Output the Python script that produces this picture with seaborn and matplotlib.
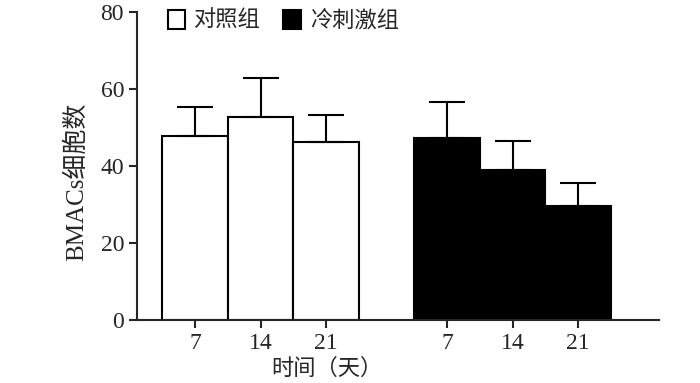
import numpy as np
import pandas as pd
import matplotlib
matplotlib.use('Agg')
import matplotlib.pyplot as plt
from matplotlib.patches import Patch
import seaborn as sns

# 数据
groups = ['对照组', '对照组', '对照组', '冷刺激组', '冷刺激组', '冷刺激组']
days = ['7', '14', '21', '7', '14', '21']
positions = [0, 1, 2, 3.85, 4.85, 5.85]
means = [47.8, 52.7, 46.2, 47.3, 39.0, 29.6]
sds = [7.5, 10.2, 7.0, 9.3, 7.5, 6.0]

df = pd.DataFrame({'group': groups, 'day': days, 'pos': positions, 'mean': means, 'sd': sds})

sns.set_style('ticks')
plt.rcParams['font.family'] = ['Liberation Serif', 'Noto Sans CJK SC']
plt.rcParams['axes.unicode_minus'] = False

fig = plt.figure(figsize=(7, 3.83), dpi=100)
ax = fig.add_axes([0.196, 0.1645, 0.745, 0.8042])

palette = {'对照组': 'white', '冷刺激组': 'black'}
sns.barplot(data=df, x='pos', y='mean', hue='group', palette=palette, native_scale=True,
            dodge=False, width=1, edgecolor='black', linewidth=1.5, errorbar=None,
            legend=False, ax=ax)

ax.errorbar(df['pos'], df['mean'], yerr=[np.zeros(len(df)), df['sd']], fmt='none',
            ecolor='black', elinewidth=1.5, capsize=13, capthick=1.5, zorder=1)

ax.set_xlim(-0.885, 7.08)
ax.set_ylim(0, 80)
ax.set_yticks([0, 20, 40, 60, 80])
ax.set_xticks(df['pos'])
ax.set_xticklabels(df['day'])
ax.tick_params(axis='both', labelsize=17, width=1.5, length=6, direction='out')

sns.despine(ax=ax)
for s in ['left', 'bottom']:
    ax.spines[s].set_linewidth(1.5)

ax.set_xlabel('时间（天）', fontsize=16)
ax.set_ylabel('BMACs细胞数', fontsize=18)
ax.xaxis.set_label_coords(0.364, -0.125)
ax.yaxis.set_label_coords(-0.095, 0.45)

handles = [Patch(facecolor=palette[g], edgecolor='black', linewidth=1.5, label=g)
           for g in ['对照组', '冷刺激组']]
ax.legend(handles=handles, loc='upper left', bbox_to_anchor=(0.02, 1.07), ncol=2,
          frameon=False, fontsize=16, handlelength=0.8, handleheight=0.9,
          handletextpad=0.4, columnspacing=1.0)

fig.savefig('out.png', dpi=100)
